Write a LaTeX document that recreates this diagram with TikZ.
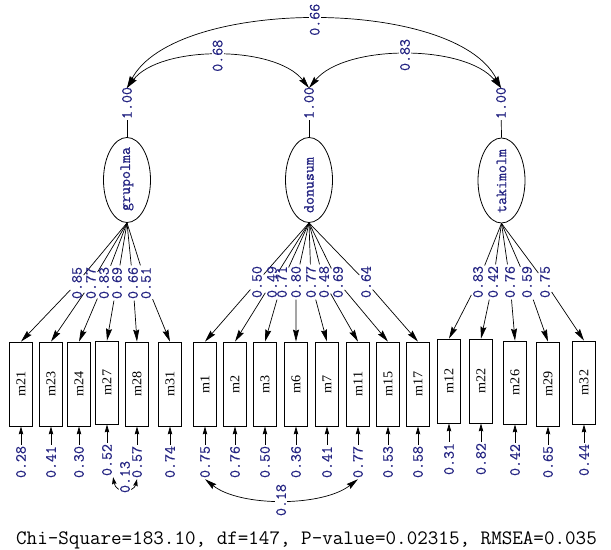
\documentclass[tikz,border=0pt]{standalone}
\usepackage{fontspec}
\usepackage{graphicx}
\usetikzlibrary{arrows.meta,shapes.geometric}
\newfontfamily\lisserif{Liberation Serif}
\newfontfamily\lismono[FakeBold=0.6]{Latin Modern Mono}
\definecolor{numcol}{RGB}{35,35,130}
\newcommand\numfnt{\lismono\fontsize{15.5bp}{17bp}\selectfont}
\newcommand\boxfnt{\lisserif\fontsize{13.5bp}{15bp}\selectfont}
\newcommand\fitfnt{\ttfamily\fontsize{20.5bp}{24bp}\selectfont}
\newcommand\rt[1]{\rotatebox{90}{#1}}
\newcommand\rb[1]{\rotatebox{90}{\scalebox{1.05}[1]{#1}}}
\begin{document}
\begin{tikzpicture}[x=1bp,y=-1bp,
  lat/.style={ellipse,draw,line width=0.8bp,minimum width=47bp,minimum height=85bp,inner sep=0pt},
  latname/.style={font=\numfnt,text=numcol,inner sep=0pt},
  ibox/.style={draw,line width=0.8bp,minimum width=23bp,inner sep=0pt,font=\boxfnt},
  lab/.style={font=\numfnt,text=numcol,inner sep=1.5bp},
  clab/.style={font=\numfnt,text=numcol,fill=white,inner sep=1bp},
  elab/.style={font=\numfnt,text=numcol,inner sep=1bp},
  larrow/.style={line width=0.7bp,-{Stealth[length=12bp,width=6bp,inset=1.5bp]}},
  carrow/.style={line width=0.7bp,{Stealth[length=12bp,width=6bp,inset=1.5bp]}-{Stealth[length=12bp,width=6bp,inset=1.5bp]}},
  csmall/.style={line width=0.7bp,{Stealth[length=7bp,width=4.5bp,inset=1bp]}-{Stealth[length=7bp,width=4.5bp,inset=1bp]}},
  earrow/.style={line width=0.7bp,-{Stealth[length=8bp,width=4.5bp,inset=1bp]}},
  stem/.style={line width=0.7bp}]
\useasboundingbox[fill=white] (0,0) rectangle (611,550);

% latent variables
\node[lat] (g) at (127,180) {};
\node[latname] (gname) at (127,179) {\rt{grupolma}};
\node[lat] (d) at (309,180) {};
\node[latname] (dname) at (309,185) {\rt{donusum}};
\node[lat] (t) at (501.5,180.5) {};
\node[latname] (tname) at (501.5,181) {\rt{takimolm}};

% variances
\coordinate (gt) at (127,88);
\coordinate (dt) at (309,88);
\coordinate (tt) at (501,88);
\node[elab] (gv) at (127,103) {\rt{1.00}};
\node[elab] (dv) at (309,103) {\rt{1.00}};
\node[elab] (tv) at (501,103) {\rt{1.00}};
\draw[stem] (gv) -- (g.north);
\draw[stem] (dv) -- (d.north);
\draw[stem] (tv) -- (t.north);

% covariances
\draw[carrow] (gt) .. controls (175,-3) and (455,-3) .. (tt) node[clab,pos=0.5]{\rt{0.66}};
\draw[carrow] (gt) .. controls (160,45) and (275,45) .. (dt) node[clab,pos=0.5]{\rt{0.68}};
\draw[carrow] (dt) .. controls (345,44) and (465,44) .. (tt) node[clab,pos=0.5]{\rt{0.83}};

% indicators and errors
\foreach \n/\x/\t/\b/\e in {m21/21/342/426/0.28, m23/51/342/426/0.41, m24/79/342/426/0.30,
  m27/107/341/424/0.52, m28/137/342/426/0.57, m31/170/342/426/0.74,
  m1/205/342/426/0.75, m2/235/342/426/0.76, m3/265/342/426/0.50, m6/296/342/426/0.36,
  m7/327/342/426/0.41, m11/358/342/426/0.77, m15/388/342/426/0.53, m17/418/342/426/0.58,
  m12/449/339/423/0.31, m22/481/339/423/0.82, m26/515/341/424/0.42, m29/548/342/426/0.65,
  m32/584/341/424/0.44}{
  \node[ibox,minimum height={(\b-\t)*1bp}] (\n) at (\x,{(\t+\b)/2}) {\rb{\n}};
  \node[elab] (e\n) at (\x,{\b+36}) {\rt{\e}};
  \draw[earrow] (e\n) -- (\n);
}

% loadings
\foreach \n/\x/\l in {m21/77/0.85, m23/91/0.77, m24/104/0.83, m27/117/0.69, m28/133/0.66, m31/146/0.51}{
  \node[lab] (l\n) at (\x,283) {\rt{\l}};
  \draw[larrow] (g.south) -- (l\n) -- (\n.north);
}
\foreach \n/\x/\l in {m1/257/0.50, m2/272/0.49, m3/282/0.71, m6/296/0.80, m7/311/0.77, m11/324/0.48, m15/338/0.69, m17/366/0.64}{
  \node[lab] (l\n) at (\x,282) {\rt{\l}};
  \draw[larrow] (d.south) -- (l\n) -- (\n.north);
}
\foreach \n/\x/\l in {m12/478/0.83, m22/493/0.42, m26/510/0.76, m29/527/0.59, m32/545/0.75}{
  \node[lab] (l\n) at (\x,282) {\rt{\l}};
  \draw[larrow] (t.south) -- (l\n) -- (\n.north);
}

% error covariances
\draw[carrow] (em1.south) .. controls (240,507) and (322,507) .. (em11.south) node[clab,pos=0.5]{\rt{0.18}};
\draw[csmall] (em27.south east) .. controls (116,494) and (134,492) .. (em28.south);
\node[clab] (c13) at (125,477) {\rt{0.13}};

% fit statistics
\node[font=\fitfnt,inner sep=0pt] (fit) at (306.5,540) {Chi-Square=183.10, df=147, P-value=0.02315, RMSEA=0.035};
\end{tikzpicture}
\end{document}
